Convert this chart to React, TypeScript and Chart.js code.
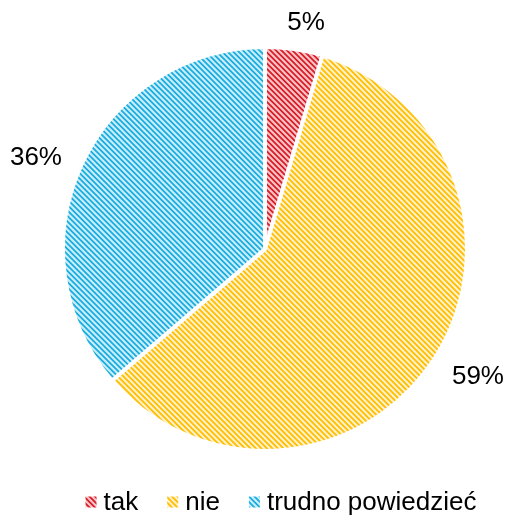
import React, { useEffect, useRef } from "react";
import { Chart, registerables } from "chart.js";

Chart.register(...registerables);

const categories = ["tak", "nie", "trudno powiedzieć"];
const values = [4.6, 59.1, 36.3];
const stripeColors = ["#d81f2a", "#ffbe00", "#1aaee0"];
const backColors = ["#f9c2c5", "#fff0c8", "#c8edf9"];

const FONT = "26px 'Liberation Sans', Arial, sans-serif";

function hexToRgb(h: string) {
  const n = parseInt(h.slice(1), 16);
  return [(n >> 16) & 255, (n >> 8) & 255, n & 255];
}

function makePattern(fg: string, bg: string): CanvasPattern | string {
  const size = 11;
  const period = 5.5;
  const c = document.createElement("canvas");
  c.width = size;
  c.height = size;
  const ctx = c.getContext("2d");
  if (!ctx) return fg;
  const img = ctx.createImageData(size, size);
  const f = hexToRgb(fg);
  const b = hexToRgb(bg);
  for (let y = 0; y < size; y++) {
    for (let x = 0; x < size; x++) {
      let u = (x - y) % period;
      if (u < 0) u += period;
      const d = Math.min(u, period - u);
      const a = Math.max(0, Math.min(1, 1.75 - d));
      const i = (y * size + x) * 4;
      img.data[i] = Math.round(b[0] + (f[0] - b[0]) * a);
      img.data[i + 1] = Math.round(b[1] + (f[1] - b[1]) * a);
      img.data[i + 2] = Math.round(b[2] + (f[2] - b[2]) * a);
      img.data[i + 3] = 255;
    }
  }
  ctx.putImageData(img, 0, 0);
  const p = ctx.createPattern(c, "repeat");
  return p || fg;
}

export default function App() {
  const ref = useRef<HTMLCanvasElement | null>(null);

  useEffect(() => {
    const canvas = ref.current;
    if (!canvas) return;
    const patterns = stripeColors.map((c, i) => makePattern(c, backColors[i]));

    // small per-label angular (deg) and radial (px) adjustments
    const angleNudge = [2, -2.2, -2.8];
    const radialNudge = [-3, 1, 0];

    const labelPlugin = {
      id: "outLabels",
      afterDraw(chart: any) {
        const ctx = chart.ctx;
        const meta = chart.getDatasetMeta(0);
        ctx.save();
        ctx.font = FONT;
        ctx.fillStyle = "#000";
        ctx.textAlign = "center";
        ctx.textBaseline = "middle";
        meta.data.forEach((arc: any, i: number) => {
          const p = arc.getProps(["x", "y", "startAngle", "endAngle", "outerRadius"], true);
          const mid = (p.startAngle + p.endAngle) / 2 + (angleNudge[i] * Math.PI) / 180;
          const dx = Math.cos(mid);
          const dy = Math.sin(mid);
          const text = Math.round(values[i]) + "%";
          const w = ctx.measureText(text).width;
          const h = 25;
          const ext = (w / 2) * Math.abs(dx) + (h / 2) * Math.abs(dy);
          const r = p.outerRadius + 16 + ext + radialNudge[i];
          ctx.fillText(text, p.x + dx * r, p.y + dy * r + 1);
        });
        ctx.restore();
      },
    };

    const legendPlugin = {
      id: "customLegend",
      afterDraw(chart: any) {
        const ctx = chart.ctx;
        ctx.save();
        ctx.font = FONT;
        ctx.textBaseline = "middle";
        ctx.textAlign = "left";
        const box = 11;
        const textGap = 7;
        const itemGap = 29;
        const widths = categories.map((c) => ctx.measureText(c).width);
        const total =
          widths.reduce((s, w) => s + box + textGap + w, 0) + itemGap * (categories.length - 1);
        const centerX = 281;
        const yMid = 502;
        let x = centerX - total / 2;
        categories.forEach((c, i) => {
          ctx.fillStyle = patterns[i] as any;
          ctx.fillRect(x, yMid - box / 2, box, box);
          ctx.fillStyle = "#000";
          ctx.fillText(c, x + box + textGap, yMid + 1);
          x += box + textGap + widths[i] + itemGap;
        });
        ctx.restore();
      },
    };

    const chart = new Chart(canvas, {
      type: "pie",
      data: {
        labels: categories,
        datasets: [
          {
            data: values,
            backgroundColor: patterns as any,
            borderColor: "#ffffff",
            borderWidth: 4,
          },
        ],
      },
      options: {
        responsive: false,
        animation: false,
        layout: { padding: { left: 61, right: 38, top: 45, bottom: 65 } },
        plugins: {
          legend: { display: false },
          tooltip: { enabled: false },
        },
      },
      plugins: [labelPlugin, legendPlugin],
    });
    return () => chart.destroy();
  }, []);

  return (
    <div style={{ position: "fixed", left: 0, top: 0, width: 507, height: 518, background: "#fff" }}>
      <canvas ref={ref} width={507} height={518} style={{ display: "block", width: 507, height: 518 }} />
    </div>
  );
}
